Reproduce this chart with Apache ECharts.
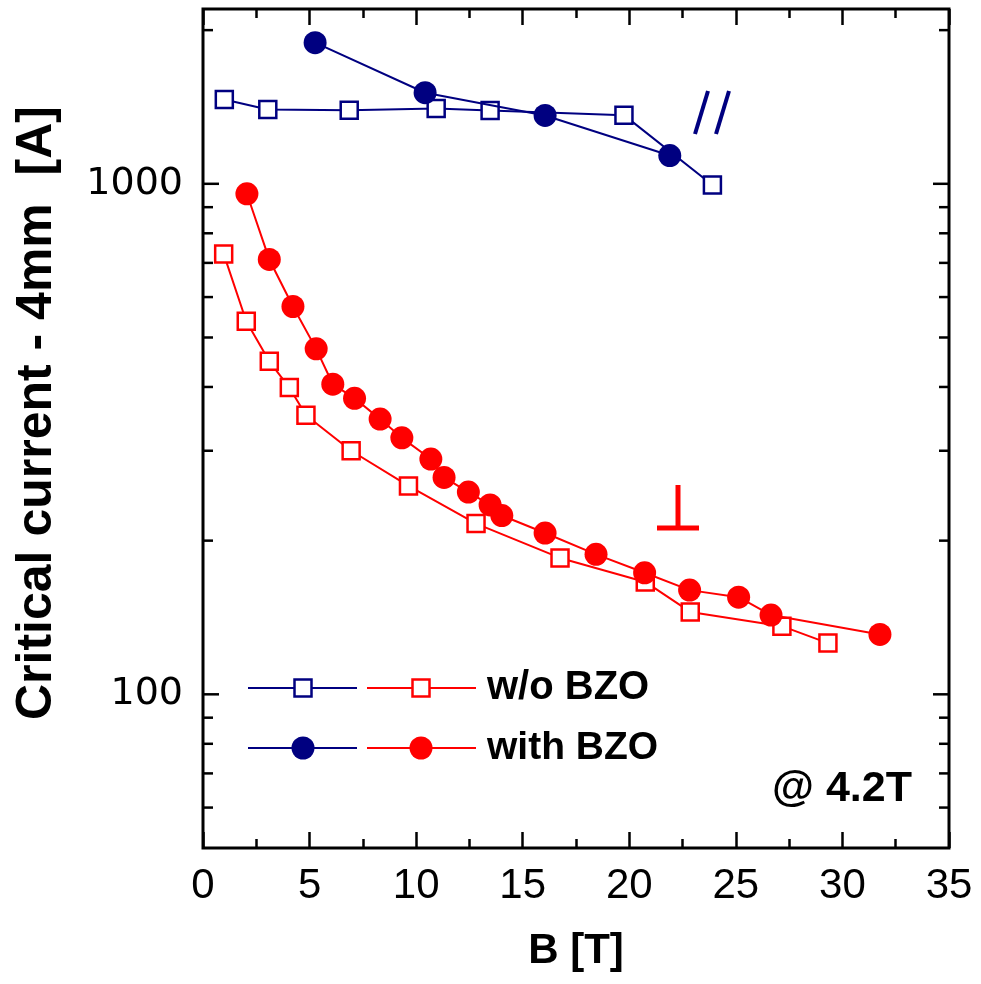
<!DOCTYPE html>
<html>
<head>
<meta charset="utf-8">
<script src="https://cdn.jsdelivr.net/npm/echarts@6/dist/echarts.min.js"></script>
<style>
html,body{margin:0;padding:0;background:#fff;}
#chart{width:981px;height:984px;}
</style>
</head>
<body>
<div id="chart"></div>
<script>
// ---- data (B [T], Ic [A]) ----
const parWoB   = [1.0, 3.04, 6.86, 10.94, 13.47, 19.75, 23.9];
const parWoI   = [1463, 1398, 1394, 1405, 1392, 1363, 995];
const parWithB = [5.26, 10.42, 16.05, 21.9];
const parWithI = [1890, 1508, 1361, 1136];
const perpWoB  = [0.97, 2.03, 3.11, 4.05, 4.83, 6.95, 9.64, 12.81, 16.75, 20.75, 22.86, 27.16, 29.32];
const perpWoI  = [729, 538, 449, 399, 352, 300, 256, 216, 185, 166, 145, 136, 126];
const perpWithB = [2.06, 3.11, 4.22, 5.31, 6.09, 7.11, 8.31, 9.33, 10.69, 11.31, 12.45, 13.47, 14.02, 16.05, 18.44, 20.72, 22.83, 25.13, 26.65, 31.76];
const perpWithI = [956, 711, 575, 475, 405, 380, 346, 318, 289, 266, 249, 235, 224, 207, 188, 173, 160, 155, 143, 131];
const yMajorTicks = [100, 1000];
const yMinorTicks = [60, 70, 80, 90, 200, 300, 400, 500, 600, 700, 800, 900, 2000];
const legendLabels = ['w/o BZO', 'with BZO'];
const noteText = '@ 4.2T';
const xTitle = 'B [T]';
const yTitle = 'Critical current - 4mm  [A]';

const NAVY = '#000080';
const RED = '#ff0000';
const zip = (a, b) => a.map((v, i) => [v, b[i]]);

const chart = echarts.init(document.getElementById('chart'));
const tickData = yMajorTicks.map(v => [0, v, 1]).concat(yMinorTicks.map(v => [0, v, 0]));

const sqStyle = c => ({color: '#fff', borderColor: c, borderWidth: 2.5});
const BOLD = '"Liberation Sans", Arial, sans-serif';

const option = {
  backgroundColor: '#fff',
  animation: false,
  grid: {left: 203, right: 32, top: 9, bottom: 136, show: true, borderColor: '#000', borderWidth: 3,
         backgroundColor: 'transparent', containLabel: false, outerBoundsMode: 'none'},
  xAxis: [{
    type: 'value', min: 0, max: 35, interval: 5, position: 'bottom',
    axisLine: {show: false},
    axisTick: {show: true, inside: true, length: 16, lineStyle: {color: '#000', width: 2.5}},
    minorTick: {show: true, splitNumber: 2, length: 9, lineStyle: {color: '#000', width: 2.5}},
    splitLine: {show: false},
    axisLabel: {margin: 17, color: '#000', fontSize: 42, fontFamily: '"Liberation Sans",Arial,sans-serif'},
    name: xTitle, nameLocation: 'middle', nameGap: 82,
    nameTextStyle: {fontSize: 42, fontWeight: 'bold', color: '#000', fontFamily: BOLD}
  }, {
    type: 'value', min: 0, max: 35, interval: 5, position: 'top',
    axisLine: {show: false},
    axisTick: {show: true, inside: true, length: 16, lineStyle: {color: '#000', width: 2.5}},
    minorTick: {show: true, splitNumber: 2, length: 9, lineStyle: {color: '#000', width: 2.5}},
    splitLine: {show: false},
    axisLabel: {show: false}
  }],
  yAxis: [{
    type: 'log', logBase: 10, min: 50, max: 2200,
    axisLine: {show: false}, axisTick: {show: false}, splitLine: {show: false}, minorTick: {show: false},
    axisLabel: {
      margin: 20, color: '#000', fontSize: 38, fontFamily: '"DejaVu Sans",sans-serif',
      showMinLabel: false, showMaxLabel: false,
      formatter: v => (yMajorTicks.some(t => Math.abs(t - v) < 1e-6 * t) ? String(Math.round(v)) : '')
    }
  }],
  series: [
    {type: 'custom', coordinateSystem: 'cartesian2d', silent: true, clip: false, z: 5,
     encode: {x: 0, y: 1}, data: tickData,
     renderItem: (params, api) => {
       const v = api.value(1);
       const len = api.value(2) ? 16 : 10;
       const p0 = api.coord([0, v]);
       const p1 = api.coord([35, v]);
       const st = {stroke: '#000', lineWidth: 2.5};
       return {type: 'group', children: [
         {type: 'line', shape: {x1: p0[0], y1: p0[1], x2: p0[0] + len, y2: p0[1]}, style: st},
         {type: 'line', shape: {x1: p1[0], y1: p1[1], x2: p1[0] - len, y2: p1[1]}, style: st}
       ]};
     }},
    {name: 'par w/o', type: 'line', data: zip(parWoB, parWoI), symbol: 'rect', symbolSize: 17,
     lineStyle: {color: NAVY, width: 2}, itemStyle: sqStyle(NAVY), z: 3},
    {name: 'perp w/o', type: 'line', data: zip(perpWoB, perpWoI), symbol: 'rect', symbolSize: 17,
     lineStyle: {color: RED, width: 2}, itemStyle: sqStyle(RED), z: 3},
    {name: 'par with', type: 'line', data: zip(parWithB, parWithI), symbol: 'circle', symbolSize: 23,
     lineStyle: {color: NAVY, width: 2}, itemStyle: {color: NAVY}, z: 4},
    {name: 'perp with', type: 'line', data: zip(perpWithB, perpWithI), symbol: 'circle', symbolSize: 23,
     lineStyle: {color: RED, width: 2}, itemStyle: {color: RED}, z: 4}
  ],
  graphic: [
    // y-axis title
    {type: 'text', x: 37, y: 413, rotation: Math.PI / 2,
     style: {text: yTitle, fill: '#000', font: 'bold 50px ' + BOLD, textAlign: 'center', textVerticalAlign: 'middle'}},
    // legend row 1
    {type: 'line', shape: {x1: 248, y1: 688, x2: 357, y2: 688}, style: {stroke: NAVY, lineWidth: 2}},
    {type: 'rect', shape: {x: 294.5, y: 679.5, width: 17, height: 17}, style: {fill: '#fff', stroke: NAVY, lineWidth: 2.5}},
    {type: 'line', shape: {x1: 367, y1: 688, x2: 476, y2: 688}, style: {stroke: RED, lineWidth: 2}},
    {type: 'rect', shape: {x: 412.5, y: 679.5, width: 17, height: 17}, style: {fill: '#fff', stroke: RED, lineWidth: 2.5}},
    {type: 'text', x: 487, y: 688, style: {text: legendLabels[0], fill: '#000', font: 'bold 40px ' + BOLD, textVerticalAlign: 'middle'}},
    // legend row 2
    {type: 'line', shape: {x1: 248, y1: 748, x2: 357, y2: 748}, style: {stroke: NAVY, lineWidth: 2}},
    {type: 'circle', shape: {cx: 303, cy: 748, r: 11.5}, style: {fill: NAVY}},
    {type: 'line', shape: {x1: 367, y1: 748, x2: 476, y2: 748}, style: {stroke: RED, lineWidth: 2}},
    {type: 'circle', shape: {cx: 421, cy: 748, r: 11.5}, style: {fill: RED}},
    {type: 'text', x: 487, y: 748, style: {text: legendLabels[1], fill: '#000', font: 'bold 39px ' + BOLD, textVerticalAlign: 'middle'}},
    // note
    {type: 'text', x: 772, y: 789, style: {text: noteText, fill: '#000', font: 'bold 43px ' + BOLD, textVerticalAlign: 'middle'}},
    // parallel mark //
    {type: 'line', shape: {x1: 708, y1: 91, x2: 695, y2: 134}, style: {stroke: NAVY, lineWidth: 4}},
    {type: 'line', shape: {x1: 729, y1: 91, x2: 716, y2: 134}, style: {stroke: NAVY, lineWidth: 4}},
    // perpendicular mark
    {type: 'line', shape: {x1: 678, y1: 485, x2: 678, y2: 528}, style: {stroke: RED, lineWidth: 5}},
    {type: 'line', shape: {x1: 657, y1: 528, x2: 699, y2: 528}, style: {stroke: RED, lineWidth: 5}}
  ]
};
chart.setOption(option);
</script>
</body>
</html>
